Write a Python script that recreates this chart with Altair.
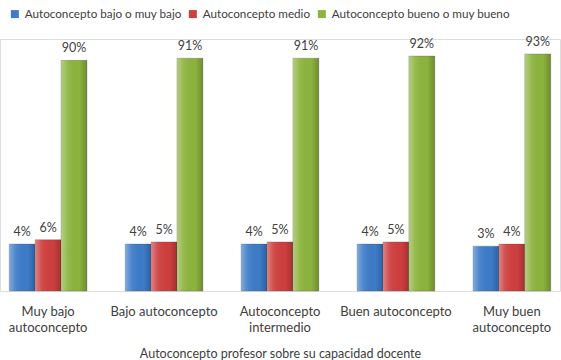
import altair as alt
import pandas as pd

categories = ["Muy bajo|autoconcepto", "Bajo autoconcepto", "Autoconcepto|intermedio",
              "Buen autoconcepto", "Muy buen|autoconcepto"]
series = ["Autoconcepto bajo o muy bajo", "Autoconcepto medio", "Autoconcepto bueno o muy bueno"]
bajo = [4, 4, 4, 4, 3]
medio = [6, 5, 5, 5, 4]
bueno = [90, 91, 91, 92, 93]
colors = ["#3D7CC9", "#CF3F3F", "#8DB43E"]
axis_title = "Autoconcepto profesor sobre su capacidad docente"

rows = []
for i, c in enumerate(categories):
    for s, vals in zip(series, [bajo, medio, bueno]):
        rows.append({"cat": c, "serie": s, "valor": vals[i], "label": f"{vals[i]}%"})
df = pd.DataFrame(rows)

FONT = "Lato"
TXT = "#404040"
BASE = -18

x = alt.X("cat:N", sort=categories,
          scale=alt.Scale(paddingInner=0.33, paddingOuter=0.08),
          axis=alt.Axis(title=axis_title, labelExpr="split(datum.label, '|')",
                        labelAngle=0, domain=False, ticks=False, labelPadding=14,
                        labelFontSize=13, labelLineHeight=16, labelFont=FONT,
                        labelColor=TXT, titleFont=FONT, titleFontSize=12.5,
                        titleFontWeight="normal", titleColor=TXT, titlePadding=13,
                        grid=False))
xo = alt.XOffset("serie:N", sort=series, scale=alt.Scale(paddingInner=0, paddingOuter=0))
y = alt.Y("valor:Q", scale=alt.Scale(domain=[BASE, 100], nice=False, zero=False), axis=None)
y2 = alt.Y2(datum=BASE)

base = alt.Chart(df)

bars = base.mark_bar(strokeWidth=0.6, stroke="#555555", strokeOpacity=0.5).encode(
    x=x, xOffset=xo, y=y, y2=y2,
    color=alt.Color("serie:N", sort=series,
                    scale=alt.Scale(domain=series, range=colors),
                    legend=alt.Legend(title=None, orient="none", legendX=9, legendY=-31,
                                      direction="horizontal", symbolType="square",
                                      symbolSize=64, symbolStrokeWidth=0,
                                      labelFont=FONT, labelFontSize=11.7, labelColor=TXT,
                                      labelLimit=400, labelOffset=4, columnPadding=5)),
)

shade = base.mark_bar(
    fill=alt.Gradient(
        gradient="linear", x1=0, x2=1, y1=0, y2=0,
        stops=[alt.GradientStop(color="rgba(255,255,255,0.35)", offset=0),
               alt.GradientStop(color="rgba(255,255,255,0.08)", offset=0.25),
               alt.GradientStop(color="rgba(0,0,0,0)", offset=0.7),
               alt.GradientStop(color="rgba(0,0,0,0.22)", offset=1)])
).encode(x=x, xOffset=xo, y=y, y2=y2)

labels = base.mark_text(font=FONT, fontSize=12.5, color=TXT, baseline="alphabetic", dy=-8).encode(
    x=x, xOffset=xo, y=y, text="label:N")

chart = alt.layer(bars, shade, labels).properties(
    width=560, height=252,
    autosize=alt.AutoSizeParams(type="none"),
    padding={"left": 0, "top": 39, "right": 1, "bottom": 69},
).configure_view(stroke=None).configure(background="white")

chart.save("out.html", embed_options={"renderer": "svg", "actions": False})
